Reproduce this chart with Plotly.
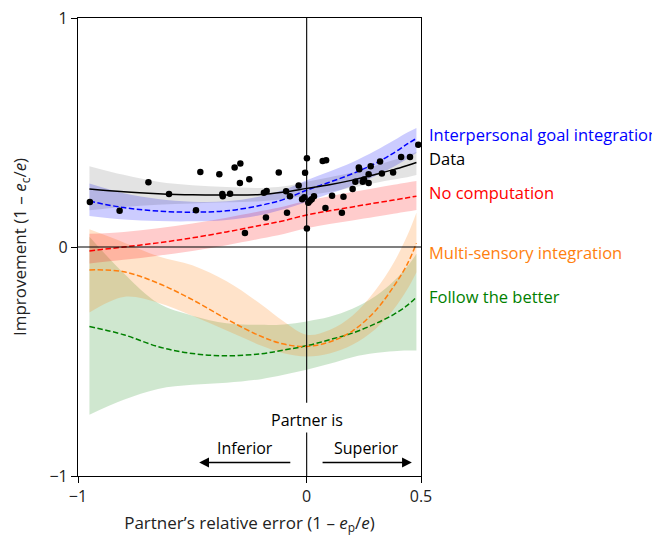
import plotly.graph_objects as go

# ---------------- data ----------------
x_fit = [-0.95, -0.8, -0.65, -0.5, -0.35, -0.2, -0.1, 0.0, 0.1, 0.2, 0.3, 0.38, 0.44, 0.48]

data_mean = [0.253, 0.241, 0.233, 0.228, 0.227, 0.229, 0.240, 0.256, 0.272, 0.292, 0.317, 0.338, 0.356, 0.369]
data_lo = [0.160, 0.175, 0.185, 0.190, 0.195, 0.200, 0.210, 0.225, 0.240, 0.260, 0.280, 0.295, 0.305, 0.314]
data_hi = [0.353, 0.315, 0.285, 0.270, 0.262, 0.258, 0.265, 0.285, 0.305, 0.325, 0.355, 0.380, 0.400, 0.415]

igi_mean = [0.200, 0.172, 0.157, 0.152, 0.158, 0.182, 0.208, 0.248, 0.283, 0.320, 0.365, 0.410, 0.450, 0.474]
igi_lo = [0.135, 0.120, 0.113, 0.112, 0.118, 0.140, 0.165, 0.197, 0.232, 0.268, 0.310, 0.350, 0.385, 0.410]
igi_hi = [0.277, 0.235, 0.210, 0.198, 0.200, 0.222, 0.250, 0.292, 0.330, 0.370, 0.420, 0.465, 0.500, 0.520]

noc_mean = [-0.017, 0.000, 0.018, 0.040, 0.066, 0.095, 0.115, 0.140, 0.158, 0.175, 0.192, 0.205, 0.215, 0.222]
noc_lo = [-0.072, -0.056, -0.038, -0.017, 0.008, 0.037, 0.057, 0.082, 0.100, 0.116, 0.132, 0.145, 0.155, 0.162]
noc_hi = [0.058, 0.066, 0.082, 0.103, 0.128, 0.157, 0.177, 0.202, 0.222, 0.240, 0.258, 0.272, 0.282, 0.288]

msi_mean = [-0.100, -0.108, -0.158, -0.230, -0.315, -0.390, -0.424, -0.434, -0.415, -0.367, -0.279, -0.173, -0.075, 0.016]
msi_lo = [-0.286, -0.218, -0.243, -0.300, -0.365, -0.430, -0.464, -0.478, -0.465, -0.427, -0.359, -0.273, -0.185, -0.110]
msi_hi = [0.077, 0.020, -0.040, -0.080, -0.150, -0.250, -0.325, -0.383, -0.362, -0.300, -0.190, -0.070, 0.050, 0.150]

ftb_mean = [-0.347, -0.383, -0.435, -0.465, -0.475, -0.466, -0.450, -0.431, -0.405, -0.376, -0.335, -0.295, -0.255, -0.219]
ftb_lo = [-0.732, -0.667, -0.620, -0.602, -0.593, -0.577, -0.558, -0.536, -0.510, -0.481, -0.463, -0.455, -0.452, -0.452]
ftb_hi = [0.045, -0.115, -0.245, -0.300, -0.333, -0.340, -0.338, -0.325, -0.305, -0.270, -0.215, -0.150, -0.085, -0.030]

pts_x = [-0.948, -0.818, -0.692, -0.602, -0.484, -0.465, -0.382, -0.369, -0.367, -0.335,
         -0.315, -0.290, -0.292, -0.251, -0.270, -0.175, -0.187, -0.178, -0.122, -0.090,
         -0.086, -0.073, -0.035, -0.020, -0.010, -0.007, 0.001, 0.001, 0.007, 0.014,
         0.022, 0.032, 0.070, 0.085, 0.082, 0.111, 0.154, 0.161, 0.201, 0.213,
         0.228, 0.230, 0.245, 0.251, 0.271, 0.271, 0.280, 0.321, 0.329, 0.378,
         0.413, 0.452, 0.488]
pts_y = [0.197, 0.158, 0.283, 0.231, 0.160, 0.328, 0.318, 0.231, 0.222, 0.232,
         0.347, 0.365, 0.279, 0.296, 0.061, 0.244, 0.237, 0.129, 0.325, 0.243,
         0.150, 0.222, 0.269, 0.208, 0.217, 0.324, 0.388, 0.081, 0.193, 0.202,
         0.209, 0.222, 0.376, 0.379, 0.170, 0.224, 0.150, 0.219, 0.253, 0.285,
         0.347, 0.339, 0.285, 0.295, 0.280, 0.318, 0.353, 0.373, 0.321, 0.325,
         0.393, 0.393, 0.447]

series_names = ["Interpersonal goal integration", "Data", "No computation",
                "Multi-sensory integration", "Follow the better"]
label_y = [0.492, 0.388, 0.240, -0.026, -0.214]

x_ticks = [-1, 0, 0.5]
x_ticktext = ["\u22121", "0", "0.5"]
y_ticks = [-1, 0, 1]
y_ticktext = ["\u22121", "0", "1"]

# ---------------- styling ----------------
FONT = "Open Sans"
FS = 16
FS_LAB = 16.5
FS_TITLE = 17
BLUE = "#0000ff"
RED = "#ff0000"
ORANGE = "#ff7f0e"
GREEN = "#008000"
BLACK = "#000000"
DASH = "5.5px,2.5px"

fig = go.Figure()


def band(lo, hi, rgba):
    fig.add_trace(go.Scatter(x=x_fit, y=lo, mode="lines", line=dict(width=0, shape="spline"),
                             hoverinfo="skip", showlegend=False))
    fig.add_trace(go.Scatter(x=x_fit, y=hi, mode="lines", line=dict(width=0, shape="spline"),
                             fill="tonexty", fillcolor=rgba, hoverinfo="skip", showlegend=False))


band(ftb_lo, ftb_hi, "rgba(0,128,0,0.19)")
band(msi_lo, msi_hi, "rgba(255,127,14,0.22)")
band(noc_lo, noc_hi, "rgba(255,0,0,0.2)")
band(igi_lo, igi_hi, "rgba(0,0,255,0.2)")
band(data_lo, data_hi, "rgba(0,0,0,0.11)")


def line(y, color, dash):
    fig.add_trace(go.Scatter(x=x_fit, y=y, mode="lines",
                             line=dict(color=color, width=1.5, dash=dash, shape="spline"),
                             showlegend=False))


line(ftb_mean, GREEN, DASH)
line(msi_mean, ORANGE, DASH)
line(noc_mean, RED, DASH)
line(igi_mean, BLUE, DASH)
line(data_mean, BLACK, "solid")

fig.add_trace(go.Scatter(x=pts_x, y=pts_y, mode="markers",
                         marker=dict(color=BLACK, size=6.5), showlegend=False))

# reference lines
fig.add_shape(type="line", xref="x", yref="y", x0=-1, x1=0.5, y0=0, y1=0,
              line=dict(color=BLACK, width=1.1), layer="above")
fig.add_shape(type="line", xref="x", yref="y", x0=0, x1=0, y0=1, y1=-0.68,
              line=dict(color=BLACK, width=1.1), layer="above")
fig.add_shape(type="line", xref="x", yref="y", x0=0, x1=0, y0=-0.81, y1=-1,
              line=dict(color=BLACK, width=1.1), layer="above")

# series labels on the right
label_colors = [BLUE, BLACK, RED, ORANGE, GREEN]
for name, yy, col in zip(series_names, label_y, label_colors):
    fig.add_annotation(x=1.018, xref="paper", y=yy, yref="y", text=name, showarrow=False,
                       xanchor="left", yanchor="middle", font=dict(family=FONT, size=FS_LAB, color=col))

# partner annotations
fig.add_annotation(x=0, y=-0.754, text="Partner is", showarrow=False,
                   font=dict(family=FONT, size=FS, color=BLACK))
fig.add_annotation(x=-0.27, y=-0.876, text="Inferior", showarrow=False,
                   font=dict(family=FONT, size=FS, color=BLACK))
fig.add_annotation(x=0.26, y=-0.876, text="Superior", showarrow=False,
                   font=dict(family=FONT, size=FS, color=BLACK))
fig.add_annotation(x=-0.47, y=-0.941, ax=-0.065, ay=-0.941, xref="x", yref="y",
                   axref="x", ayref="y", text="", showarrow=True, arrowhead=2,
                   arrowsize=1.4, arrowwidth=1.4, arrowcolor=BLACK)
fig.add_annotation(x=0.46, y=-0.941, ax=0.063, ay=-0.941, xref="x", yref="y",
                   axref="x", ayref="y", text="", showarrow=True, arrowhead=2,
                   arrowsize=1.4, arrowwidth=1.4, arrowcolor=BLACK)

axis_common = dict(showgrid=False, zeroline=False, showline=True, linecolor=BLACK,
                   linewidth=1.2, mirror=True, ticks="outside", ticklen=6, tickwidth=1.2,
                   tickcolor=BLACK, automargin=False, ticklabeloverflow="allow",
                   tickfont=dict(family=FONT, size=FS, color="#222"))

fig.update_xaxes(range=[-1, 0.5], tickvals=x_ticks, ticktext=x_ticktext,
                 title=dict(text="Partner\u2019s relative error (1 \u2013 <i>e</i><sub>p</sub>/<i>e</i>)",
                            font=dict(family=FONT, size=FS_TITLE, color="#222"), standoff=10),
                 **axis_common)
fig.update_yaxes(range=[-1, 1], tickvals=y_ticks, ticktext=y_ticktext,
                 title=dict(text="Improvement (1 \u2013 <i>e</i><sub>c</sub>/<i>e</i>)",
                            font=dict(family=FONT, size=FS_TITLE, color="#222"), standoff=18),
                 **axis_common)

# the page body adds an 8 px offset; size the figure so the plot area lands on the reference
fig.update_layout(width=652, height=528, margin=dict(l=70, r=239, t=10, b=60),
                  plot_bgcolor="white", paper_bgcolor="white", showlegend=False,
                  font=dict(family=FONT))

fig.write_html("out.html")
